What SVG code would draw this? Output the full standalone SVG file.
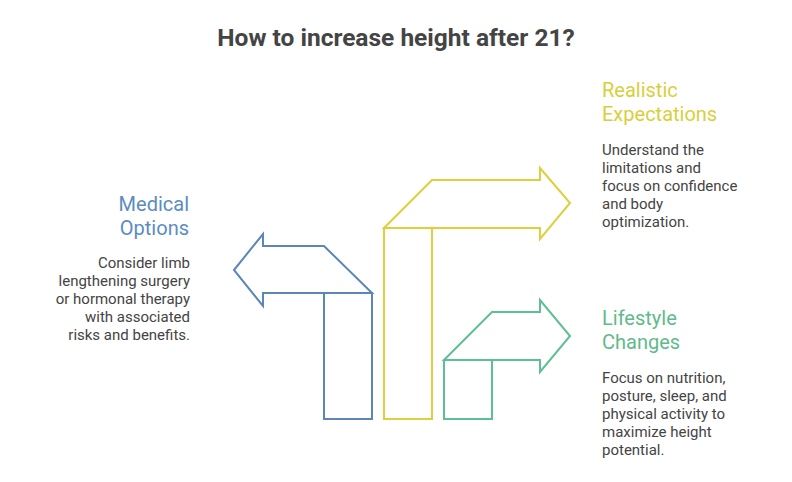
<svg xmlns="http://www.w3.org/2000/svg" width="792" height="482" viewBox="0 0 792 482">
<style>
.sh{fill:none;stroke-width:2;stroke-linejoin:miter}
.b{stroke:#5b87b6}
.y{stroke:#ddd03c}
.g{stroke:#5dbf92}
text{font-family:Roboto,"Liberation Sans",sans-serif}
.t{font-size:24.5px;font-weight:bold;fill:#444}
.h{font-size:20px}
.d{font-size:15px;fill:#444}
</style>
<rect width="792" height="482" fill="#fff"/>
<text class="t" x="396" y="46" text-anchor="middle">How to increase height after 21?</text>
<g id="connectors"/>
<g id="medical">
<polygon class="sh b" points="234,270 263,234 263,246 324,246 372,293 263,293 263,306"/>
<rect class="sh b" x="324" y="293" width="48" height="126"/>
<text class="h" fill="#5b8cc2" text-anchor="end"><tspan x="189" y="211">Medical</tspan><tspan x="189" y="235">Options</tspan></text>
<text class="d" text-anchor="end"><tspan x="190" y="268">Consider limb</tspan><tspan x="190" y="286">lengthening surgery</tspan><tspan x="190" y="304">or hormonal therapy</tspan><tspan x="190" y="322">with associated</tspan><tspan x="190" y="340">risks and benefits.</tspan></text>
</g>
<g id="realistic">
<polygon class="sh y" points="384,228 432,180 540,180 540,168 570,203 540,239 540,228"/>
<rect class="sh y" x="384" y="228" width="48" height="191"/>
<text class="h" fill="#d8cf3c"><tspan x="602" y="97">Realistic</tspan><tspan x="602" y="121">Expectations</tspan></text>
<text class="d"><tspan x="602" y="155">Understand the</tspan><tspan x="602" y="173">limitations and</tspan><tspan x="602" y="191">focus on confidence</tspan><tspan x="602" y="209">and body</tspan><tspan x="602" y="227">optimization.</tspan></text>
</g>
<g id="lifestyle">
<polygon class="sh g" points="444,360 492,312 540,312 540,300 570,336 540,372 540,360"/>
<rect class="sh g" x="444" y="360" width="48" height="59"/>
<text class="h" fill="#5fba8c"><tspan x="602" y="325">Lifestyle</tspan><tspan x="602" y="349">Changes</tspan></text>
<text class="d"><tspan x="602" y="383">Focus on nutrition,</tspan><tspan x="602" y="401">posture, sleep, and</tspan><tspan x="602" y="419">physical activity to</tspan><tspan x="602" y="437">maximize height</tspan><tspan x="602" y="455">potential.</tspan></text>
</g>
</svg>
